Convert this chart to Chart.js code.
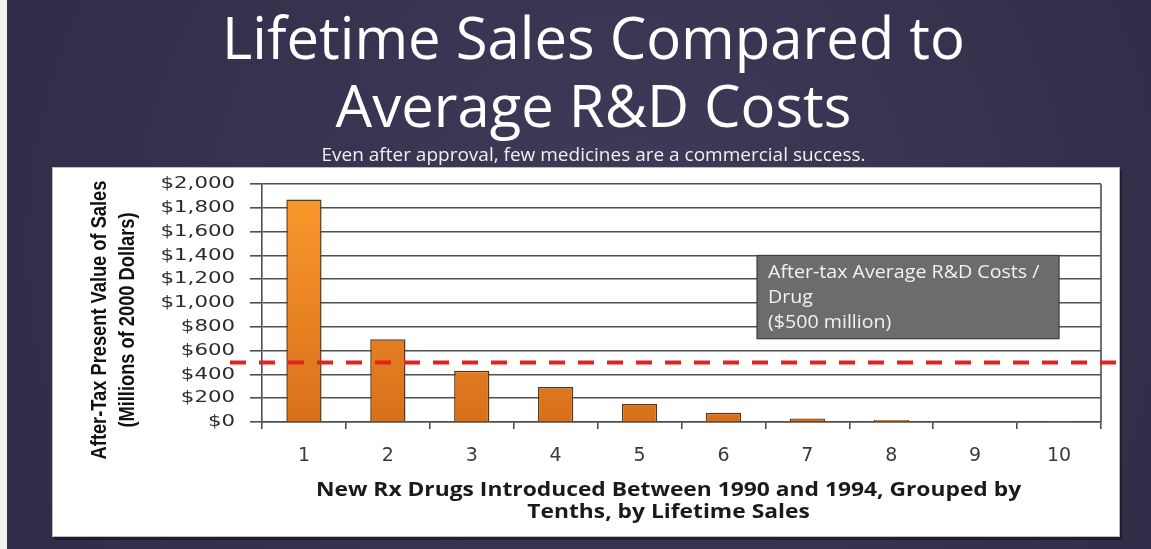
<!DOCTYPE html>
<html>
<head>
<meta charset="utf-8">
<title>Lifetime Sales Compared to Average R&amp;D Costs</title>
<style>
  html, body { margin: 0; padding: 0; background: #35304b; }
  #wrap { width: 1151px; height: 549px; }
  canvas { display: block; }
</style>
<script src="https://cdn.jsdelivr.net/npm/chart.js@4.4.1/dist/chart.umd.min.js"></script>
</head>
<body>
<div id="wrap"><canvas id="salesChart" width="1151" height="549"></canvas></div>
<script>
// ---- data ----
const deciles = ['1', '2', '3', '4', '5', '6', '7', '8', '9', '10'];
const lifetimeSales = [1870, 695, 431, 294, 151, 78, 30, 17, 5, 1]; // $ millions (2000 dollars)
const rdCostPerDrug = 500; // after-tax average R&D cost per drug, $ millions
const yTickValues = [0, 200, 400, 600, 800, 1000, 1200, 1400, 1600, 1800, 2000];

// ---- text ----
const titleLines = ['Lifetime Sales Compared to', 'Average R&D Costs'];
const subtitleText = 'Even after approval, few medicines are a commercial success.';
const yTitleLines = ['After-Tax Present Value of Sales', '(Millions of 2000 Dollars)'];
const xTitleLines = ['New Rx Drugs Introduced Between 1990 and 1994, Grouped by', 'Tenths, by Lifetime Sales'];
const rdNoteLines = ['After-tax Average R&D Costs /', 'Drug', '($500 million)'];

// ---- styling / layout ----
const PANEL = { x: 52, y: 167, w: 1068, h: 370 };
const NOTE_ANCHOR = { fromIndex: 5.4, toIndex: 9.0, topValue: 1400, bottomValue: 700 };
const GRID_COLOR = '#4f4f4f';
const Y_LABEL_STRETCH = 1.33;   // widen y tick labels
const Y_TITLE_SQUEEZE = 0.83;   // condense the rotated y title along its length
const X_TITLE_STRETCH = 1.14;   // widen the x title
const NOTE_STRETCH = 1.09;      // widen the note text

const deco = {
  id: 'deco',
  beforeDraw(chart) {
    const { ctx, width, height } = chart;
    ctx.save();
    const bg = ctx.createRadialGradient(width * 0.55, height * 0.35, 40, width * 0.5, height * 0.5, width * 0.75);
    bg.addColorStop(0, '#3e3957');
    bg.addColorStop(1, '#2c2741');
    ctx.fillStyle = bg;
    ctx.fillRect(0, 0, width, height);
    ctx.fillStyle = '#f1f1f1';
    ctx.fillRect(0, 0, 7, height);
    // white chart panel with a soft drop shadow
    ctx.fillStyle = 'rgba(0,0,0,0.35)';
    ctx.fillRect(PANEL.x + 2, PANEL.y + 3, PANEL.w, PANEL.h);
    ctx.fillStyle = '#ffffff';
    ctx.fillRect(PANEL.x, PANEL.y, PANEL.w, PANEL.h);
    ctx.strokeStyle = '#bdbdbd';
    ctx.lineWidth = 1;
    ctx.strokeRect(PANEL.x + 0.5, PANEL.y + 0.5, PANEL.w - 1, PANEL.h - 1);
    ctx.restore();
  },
  beforeDatasetsDraw(chart) {
    const { ctx, chartArea } = chart;
    ctx.save();
    ctx.strokeStyle = GRID_COLOR;
    ctx.lineWidth = 1.6;
    ctx.beginPath();
    ctx.moveTo(chartArea.right, chartArea.top);
    ctx.lineTo(chartArea.right, chartArea.bottom);
    ctx.stroke();
    ctx.restore();
  },
  afterDatasetsDraw(chart) {
    const { ctx, chartArea, scales } = chart;
    const x = scales.x, y = scales.y;
    ctx.save();
    // R&D cost reference line
    const yLine = y.getPixelForValue(rdCostPerDrug);
    ctx.strokeStyle = '#e3211f';
    ctx.lineWidth = 4;
    ctx.setLineDash([16, 13]);
    ctx.beginPath();
    ctx.moveTo(chartArea.left - 32, yLine);
    ctx.lineTo(chartArea.right + 15, yLine);
    ctx.stroke();
    ctx.setLineDash([]);
    // note box
    const bx0 = x.getPixelForValue(NOTE_ANCHOR.fromIndex);
    const bx1 = x.getPixelForValue(NOTE_ANCHOR.toIndex);
    const by0 = y.getPixelForValue(NOTE_ANCHOR.topValue);
    const by1 = y.getPixelForValue(NOTE_ANCHOR.bottomValue);
    ctx.fillStyle = '#6c6c6c';
    ctx.fillRect(bx0, by0, bx1 - bx0, by1 - by0);
    ctx.strokeStyle = '#3e3e3e';
    ctx.lineWidth = 1.2;
    ctx.strokeRect(bx0, by0, bx1 - bx0, by1 - by0);
    ctx.fillStyle = '#f2f2f2';
    ctx.font = '400 18px "Open Sans", sans-serif';
    ctx.textAlign = 'left';
    ctx.textBaseline = 'middle';
    const tx = bx0 + 11;
    ctx.translate(tx, 0);
    ctx.scale(NOTE_STRETCH, 1);
    ctx.translate(-tx, 0);
    rdNoteLines.forEach((t, i) => ctx.fillText(t, tx, by0 + 17 + i * 25));
    ctx.restore();
  },
  afterUpdate(chart) {
    const y = chart.scales.y, x = chart.scales.x;
    if (y && !y._tuned) {
      const drawLabels = y.drawLabels.bind(y);
      y.drawLabels = function (area) {
        const ax = this.right - this.options.grid.tickLength - this.options.ticks.padding;
        const ctx = this.ctx;
        ctx.save();
        ctx.translate(ax, 0);
        ctx.scale(Y_LABEL_STRETCH, 1);
        ctx.translate(-ax, 0);
        drawLabels(area);
        ctx.restore();
      };
      const drawTitleY = y.drawTitle.bind(y);
      y.drawTitle = function () {
        const ctx = this.ctx;
        const cy = (this.top + this.bottom) / 2;
        ctx.save();
        ctx.translate(0, 17);
        ctx.translate(0, cy);
        ctx.scale(1, Y_TITLE_SQUEEZE);
        ctx.translate(0, -cy);
        drawTitleY();
        ctx.restore();
      };
      y._tuned = true;
    }
    if (x && !x._tuned) {
      const drawTitleX = x.drawTitle.bind(x);
      x.drawTitle = function () {
        const ctx = this.ctx;
        const cx = (this.left + this.right) / 2;
        ctx.save();
        ctx.translate(-13, 0);
        ctx.translate(cx, 0);
        ctx.scale(X_TITLE_STRETCH, 1);
        ctx.translate(-cx, 0);
        drawTitleX();
        ctx.restore();
      };
      x._tuned = true;
    }
  }
};

function barGradient(context) {
  const { chart } = context;
  const area = chart.chartArea;
  if (!area) return '#ec8523';
  const g = chart.ctx.createLinearGradient(0, area.top, 0, area.bottom);
  g.addColorStop(0, '#fc9a2c');
  g.addColorStop(1, '#d8701b');
  return g;
}

new Chart(document.getElementById('salesChart'), {
  type: 'bar',
  data: {
    labels: deciles,
    datasets: [{
      data: lifetimeSales,
      backgroundColor: barGradient,
      borderColor: '#55361a',
      borderWidth: 1.5,
      categoryPercentage: 1.0,
      barPercentage: 0.42
    }]
  },
  options: {
    responsive: false,
    animation: false,
    devicePixelRatio: 1,
    layout: { padding: { left: 86, right: 50, top: 0, bottom: 26 } },
    plugins: {
      legend: { display: false },
      tooltip: { enabled: false },
      title: {
        display: true,
        text: titleLines,
        color: '#ffffff',
        font: { family: '"Open Sans", sans-serif', size: 58, weight: '400', lineHeight: 1.17 },
        padding: { top: 9, bottom: 0 }
      },
      subtitle: {
        display: true,
        text: subtitleText,
        color: '#f0f0f0',
        font: { family: '"Open Sans", sans-serif', size: 19, weight: '400', lineHeight: 1.1 },
        padding: { top: 0, bottom: 18.4 }
      }
    },
    scales: {
      x: {
        grid: { display: true, drawOnChartArea: false, drawTicks: true, tickLength: 7, offset: true, color: GRID_COLOR, lineWidth: 1.6 },
        border: { display: true, color: GRID_COLOR, width: 1.6 },
        ticks: { color: '#3a3a3a', font: { family: '"DejaVu Sans", sans-serif', size: 19 }, padding: 16, maxRotation: 0 },
        title: {
          display: true,
          text: xTitleLines,
          color: '#1a1a1a',
          font: { family: '"Open Sans", sans-serif', size: 20, weight: '700', lineHeight: 1.1 },
          padding: { top: 0, bottom: 0 }
        },
        afterFit(scale) { scale.height = 101; }
      },
      y: {
        min: 0,
        max: 2000,
        afterBuildTicks(scale) { scale.ticks = yTickValues.map(v => ({ value: v })); },
        grid: { color: GRID_COLOR, lineWidth: 1.6, tickLength: 12, drawTicks: true },
        border: { display: true, color: GRID_COLOR, width: 1.6 },
        ticks: {
          color: '#2a2a2a',
          font: { family: '"DejaVu Sans", sans-serif', size: 16 },
          padding: 15,
          callback: v => '$' + Number(v).toLocaleString('en-US')
        },
        title: {
          display: true,
          text: yTitleLines,
          color: '#111111',
          font: { family: '"Liberation Sans", sans-serif', size: 22, weight: '700', lineHeight: 1.27 },
          padding: { top: 0, bottom: 0 }
        },
        afterFit(scale) { scale.width = 176; }
      }
    }
  },
  plugins: [deco]
});
</script>
</body>
</html>
